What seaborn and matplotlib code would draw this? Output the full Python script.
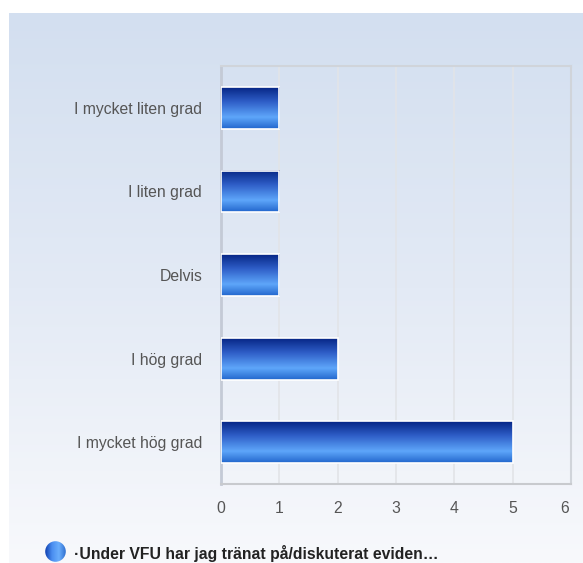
import numpy as np
import pandas as pd
import matplotlib
matplotlib.use("Agg")
import matplotlib.pyplot as plt
import matplotlib.transforms as mtransforms
from matplotlib.colors import LinearSegmentedColormap
from matplotlib.patches import Circle
import seaborn as sns

# Data
categories = ["I mycket liten grad", "I liten grad", "Delvis", "I hög grad", "I mycket hög grad"]
counts = [1, 1, 1, 2, 5]
xticks = [0, 1, 2, 3, 4, 5, 6]
legend_label = "·Under VFU har jag tränat på/diskuterat eviden…"

df = pd.DataFrame({"Svar": categories, "Antal": counts})

sns.set_style("white")
plt.rcParams["font.family"] = ["Liberation Sans", "DejaVu Sans"]

fig = plt.figure(figsize=(5.83, 5.63), dpi=100)

# Panel background gradient
bg = fig.add_axes([9 / 583, 0, 574 / 583, 550 / 563], zorder=-5)
bg_cmap = LinearSegmentedColormap.from_list("bg", ["#d3dff0", "#e3eaf5", "#f8f9fc"])
bg.imshow(np.linspace(0, 1, 256).reshape(-1, 1), aspect="auto", cmap=bg_cmap,
          extent=[0, 1, 0, 1], origin="upper")
bg.axis("off")

ax = fig.add_axes([221 / 583, 1 - 484 / 563, 350 / 583, 418 / 563])
ax.set_facecolor("none")
sns.barplot(data=df, x="Antal", y="Svar", orient="h", width=0.5, ax=ax,
            color="#3070d0", edgecolor="white", linewidth=1.2, zorder=3)

# Gradient fill for bars
bar_cmap = LinearSegmentedColormap.from_list(
    "bar", [(0, "#062585"), (0.35, "#2f5fc8"), (0.72, "#5ea6fa"), (1, "#2266cc")])
grad = np.linspace(0, 1, 128).reshape(-1, 1)
for p in ax.patches:
    x0, y0, w, h = p.get_x(), p.get_y(), p.get_width(), p.get_height()
    ax.imshow(grad, aspect="auto", cmap=bar_cmap, extent=[x0, x0 + w, y0 + h, y0],
              origin="upper", zorder=4, clip_path=p, clip_on=True)
    p.set_facecolor("none")
    p.set_zorder(5)

ax.set_xlim(0, 6)
ax.set_ylim(4.5, -0.5)
ax.set_xticks(xticks)
ax.set_xlabel("")
ax.set_ylabel("")
ax.grid(axis="x", color="#e2e4e8", linewidth=1.2, zorder=0)
ax.tick_params(axis="both", length=0, labelsize=11.3, labelcolor="#555555")
ax.tick_params(axis="y", pad=13.5)
ax.tick_params(axis="x", pad=12.5)
for side in ["top", "right"]:
    ax.spines[side].set_color("#d0d4da")
    ax.spines[side].set_linewidth(1.5)
ax.spines["bottom"].set_color("#c8cace")
ax.spines["bottom"].set_linewidth(1.5)
ax.spines["left"].set_color("#c4cad6")
ax.spines["left"].set_linewidth(2)

# last x label sits a bit inside the frame
last = ax.get_xticklabels()[-1]
last.set_transform(last.get_transform() +
                   mtransforms.ScaledTranslation(-6 / 100, 0, fig.dpi_scale_trans))

# Legend marker and text
lg = fig.add_axes([45 / 583, 1 - 562 / 563, 21 / 583, 21 / 563], zorder=2)
lg.set_xlim(0, 1)
lg.set_ylim(0, 1)
lg.axis("off")
circ = Circle((0.5, 0.5), 0.49, transform=lg.transData, facecolor="none", edgecolor="none")
lg.add_patch(circ)
leg_cmap = LinearSegmentedColormap.from_list("leg", ["#1040b0", "#4a8ef0", "#6aaefc", "#3070d0"])
lg.imshow(np.linspace(0, 1, 64).reshape(1, -1), aspect="auto", cmap=leg_cmap,
          extent=[0, 1, 0, 1], clip_path=circ)
fig.text(74 / 583, 1 - 559 / 563, legend_label, fontsize=11.3, fontweight="bold",
         color="#222222", ha="left", va="baseline")

fig.savefig("out.png", dpi=100)
